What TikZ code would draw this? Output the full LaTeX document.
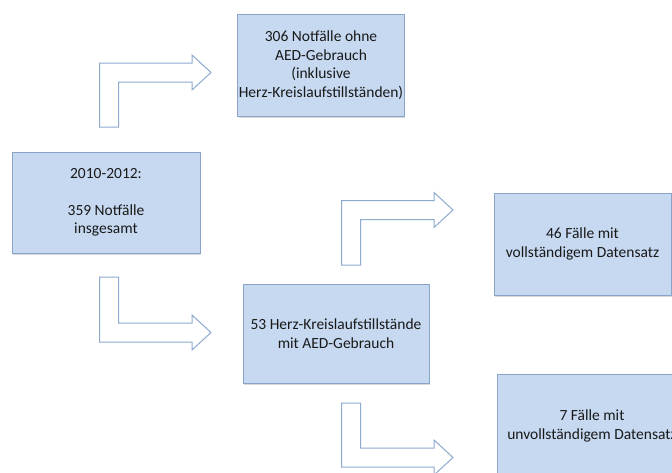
\documentclass[tikz,border=0pt]{standalone}
\usepackage{fontspec}
\setmainfont{Carlito}
\usepackage{xcolor}
\usepackage{tikz}
\usetikzlibrary{shadows, calc}

\definecolor{boxfill}{HTML}{C6D9F1}
\definecolor{boxline}{HTML}{8AA4C8}
\definecolor{arrline}{HTML}{8FAAD0}

\begin{document}
\begin{tikzpicture}[
    x=1pt, y=-1pt,
    case/.style={rectangle, draw=boxline, line width=1pt, fill=boxfill, align=center,
        font=\fontsize{15.5}{18.5}\selectfont, inner sep=1pt, text=black!90,
        drop shadow={opacity=0.3, shadow xshift=1pt, shadow yshift=-2pt}},
    blockarrow/.style={draw=arrline, line width=1pt, fill=white, line join=miter}
]
    \path[use as bounding box, clip] (0,0) rectangle (672,472);

    % Start
    \node[case, minimum width=188pt, minimum height=101pt] (total) at (106,202.5)
        {2010-2012:\\[18.5pt]359 Notfälle\\insgesamt};

    % Without AED
    \node[case, minimum width=162pt, minimum height=102pt] (noaed) at (321,65)
        {306 Notfälle ohne\\AED-Gebrauch\\(inklusive\\Herz-Kreislaufstillständen)};

    % With AED
    \node[case, minimum width=186pt, minimum height=99pt] (withaed) at (336,333.5)
        {53 Herz-Kreislaufstillstände\\mit AED-Gebrauch};

    % Data sets
    \node[case, minimum width=177pt, minimum height=102pt] (complete) at (582.5,244)
        {46 Fälle mit\\vollständigem Datensatz};
    \node[case, minimum width=190pt, minimum height=104pt] (incomplete) at (592,426)
        {7 Fälle mit\\unvollständigem Datensatz};

    % Arrow ends
    \coordinate (up1s) at (109,127);   \coordinate (up1t) at (211,72.5);
    \coordinate (dn1s) at (109,277);   \coordinate (dn1t) at (211,332.5);
    \coordinate (up2s) at (351,265);   \coordinate (up2t) at (453,210);
    \coordinate (dn2s) at (351,403);   \coordinate (dn2t) at (453,457.5);

    % Bent arrows (up, then right)
    \foreach \s/\t in {up1s/up1t, up2s/up2t}
        \draw[blockarrow] let \p1=(\s), \p2=(\t) in
            (\x1-9.5pt,\y1) -- (\x1-9.5pt,\y2+9.5pt) -- (\x2-19pt,\y2+9.5pt) -- (\x2-19pt,\y2+17.5pt)
            -- (\x2,\y2) -- (\x2-19pt,\y2-17.5pt) -- (\x2-19pt,\y2-9.5pt) -- (\x1+9.5pt,\y2-9.5pt)
            -- (\x1+9.5pt,\y1) -- cycle;

    % Bent arrows (down, then right)
    \foreach \s/\t in {dn1s/dn1t, dn2s/dn2t}
        \draw[blockarrow] let \p1=(\s), \p2=(\t) in
            (\x1-9.5pt,\y1) -- (\x1-9.5pt,\y2-9.5pt) -- (\x2-19pt,\y2-9.5pt) -- (\x2-19pt,\y2-17.5pt)
            -- (\x2,\y2) -- (\x2-19pt,\y2+17.5pt) -- (\x2-19pt,\y2+9.5pt) -- (\x1+9.5pt,\y2+9.5pt)
            -- (\x1+9.5pt,\y1) -- cycle;
\end{tikzpicture}
\end{document}
